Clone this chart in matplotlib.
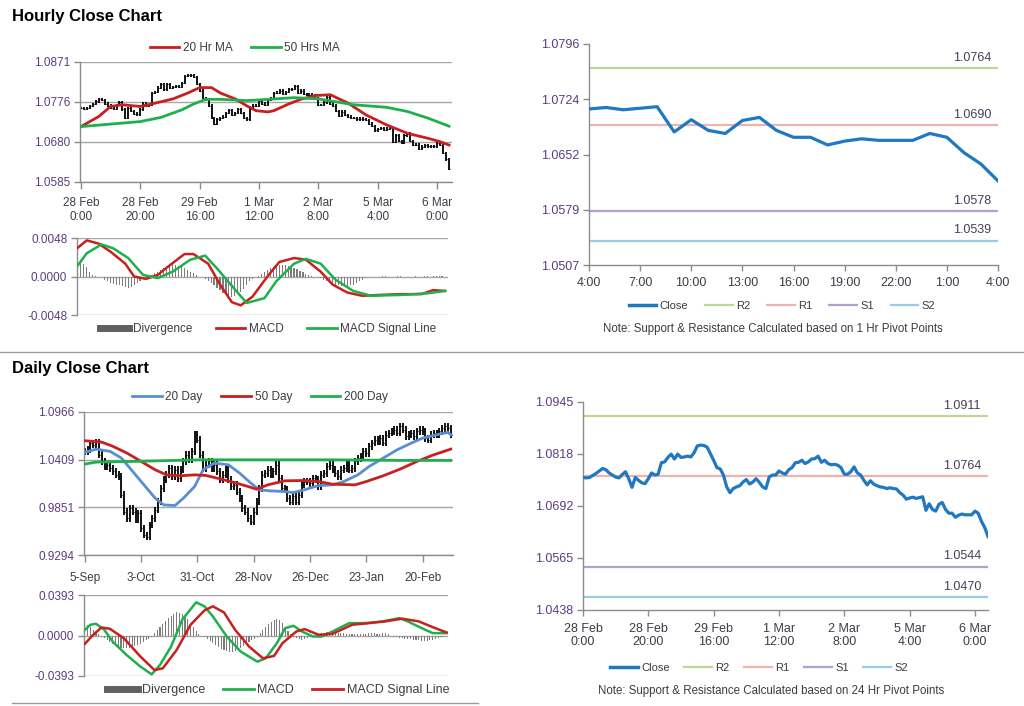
"""
Hourly / daily close dashboard: price bars with moving averages,
MACD panels and pivot (support & resistance) panels.
"""

import numpy as np
import matplotlib
matplotlib.use("Agg")
import matplotlib.pyplot as plt
from matplotlib.lines import Line2D

plt.rcParams['font.family'] = ['Liberation Sans', 'DejaVu Sans']

W, H = 1024, 706

# ---------------- hourly data (28 Feb 0:00 -> 6 Mar 4:00, 125 bars) ----------------
hourly_close = [
    1.0761, 1.0760, 1.0761, 1.0766, 1.0771, 1.0777, 1.0783, 1.0780, 1.0772, 1.0767,
    1.0762, 1.0760, 1.0768, 1.0775, 1.0758, 1.0737, 1.0761, 1.0754, 1.0748, 1.0746,
    1.0758, 1.0772, 1.0767, 1.0769, 1.0797, 1.0799, 1.0810, 1.0818, 1.0806, 1.0818,
    1.0810, 1.0811, 1.0813, 1.0811, 1.0821, 1.0838, 1.0840, 1.0839, 1.0835, 1.0819,
    1.0803, 1.0785, 1.0782, 1.0767, 1.0738, 1.0724, 1.0734, 1.0738, 1.0741, 1.0750,
    1.0756, 1.0745, 1.0750, 1.0758, 1.0749, 1.0738, 1.0734, 1.0762, 1.0767, 1.0767,
    1.0777, 1.0772, 1.0769, 1.0780, 1.0785, 1.0797, 1.0798, 1.0803, 1.0795, 1.0799,
    1.0806, 1.0807, 1.0813, 1.0798, 1.0803, 1.0795, 1.0792, 1.0793, 1.0791, 1.0785,
    1.0769, 1.0769, 1.0775, 1.0787, 1.0772, 1.0767, 1.0754, 1.0743, 1.0753, 1.0745,
    1.0741, 1.0738, 1.0737, 1.0734, 1.0736, 1.0734, 1.0733, 1.0724, 1.0718, 1.0708,
    1.0711, 1.0713, 1.0710, 1.0712, 1.0714, 1.0681, 1.0697, 1.0683, 1.0679, 1.0696,
    1.0700, 1.0683, 1.0674, 1.0674, 1.0664, 1.0669, 1.0672, 1.0670, 1.0670, 1.0670,
    1.0679, 1.0674, 1.0654, 1.0639, 1.0617,
]
hourly_ticks = ["28 Feb\n0:00", "28 Feb\n20:00", "29 Feb\n16:00", "1 Mar\n12:00",
                "2 Mar\n8:00", "5 Mar\n4:00", "6 Mar\n0:00"]

ma20_hr_idx = [0, 6, 10, 14, 20, 25, 31, 36, 40, 44, 47, 52, 56, 59, 63, 65, 70, 74,
               79, 84, 90, 96, 103, 110, 117, 121, 124]
ma20_hr = [1.0717, 1.0741, 1.0765, 1.0769, 1.0765, 1.0773, 1.0783, 1.0797, 1.0810,
           1.0810, 1.0797, 1.0783, 1.0766, 1.0755, 1.0752, 1.0755, 1.0771, 1.0782,
           1.0791, 1.0793, 1.0773, 1.0745, 1.0721, 1.0701, 1.0689, 1.0681, 1.0673]
ma50_hr_idx = [0, 10, 20, 27, 34, 38, 42, 47, 56, 63, 72, 80, 92, 103, 110, 117, 124]
ma50_hr = [1.0717, 1.0723, 1.0729, 1.0739, 1.0757, 1.0771, 1.0782, 1.0782, 1.0779,
           1.0782, 1.0786, 1.0783, 1.0769, 1.0763, 1.0753, 1.0737, 1.0718]

macd_hr_idx = [0, 3, 7, 11, 16, 19, 23, 27, 30, 36, 39, 44, 48, 52, 55, 59, 64, 68,
               73, 77, 82, 86, 91, 96, 102, 109, 116, 120, 124]
macd_hr = [0.0036, 0.0045, 0.0041, 0.0031, 0.0016, 0.0000, -0.0003, 0.0002, 0.0011,
           0.0028, 0.0028, 0.0016, -0.0010, -0.0032, -0.0036, -0.0025, 0.0000, 0.0018,
           0.0023, 0.0021, 0.0006, -0.0010, -0.0020, -0.0024, -0.0023, -0.0022,
           -0.0022, -0.0017, -0.0018]
signal_hr_idx = [0, 3, 8, 12, 17, 22, 27, 32, 38, 43, 47, 53, 57, 63, 67, 73, 77, 82,
                 87, 93, 99, 109, 118, 124]
signal_hr = [0.0014, 0.0029, 0.0040, 0.0035, 0.0023, 0.0002, -0.0002, 0.0006, 0.0021,
             0.0026, 0.0010, -0.0016, -0.0033, -0.0027, -0.0006, 0.0016, 0.0022,
             0.0016, -0.0004, -0.0018, -0.0024, -0.0023, -0.0021, -0.0018]
# divergence in units of 0.0001, one value per hourly bar
divergence_hr = [
    23, 20, 16, 12, 6, 2, 1, 0, -1,
    -4, -6, -8, -9, -10, -11, -12, -13, -14, -13, -11, -8,
    -5, -2, -1, 0,
    2, 4, 6, 8, 10, 12, 13, 14, 14, 13, 12, 10, 8, 6, 4, 2,
    0, -1, -3, -5,
    -8, -11, -14, -17, -20, -22, -24, -25, -24, -22, -19, -15, -10,
    -6, -3, -1, 1, 3,
    6, 8, 10, 12, 13, 14, 14, 14, 13, 12, 11, 9, 7, 5, 3, 2,
    1, 0, -1, -2, -4,
    -6, -8, -9, -10, -11, -12, -12, -12, -11, -10, -8, -6, -4, -2,
    -1, -1, 0, 0, 0, 1, 1, 0, 0, 0, 1, 1, 0, 0, 0, 0, 1, 0, 0, 1, 1, 0, 1, 1, 1, 1, 0,
]

# last 24 hours (4:00 -> 4:00) with 1 Hr pivot levels
last_day_ticks = ["4:00", "7:00", "10:00", "13:00", "16:00", "19:00", "22:00", "1:00", "4:00"]
pivot_names = ["R2", "R1", "S1", "S2"]
pivot_1hr = [1.0764, 1.0690, 1.0578, 1.0539]
pivot_24hr = [1.0911, 1.0764, 1.0544, 1.0470]

# ---------------- daily data (5-Sep -> early Mar, 131 bars) ----------------
daily_close = [
    1.0505, 1.0525, 1.0603, 1.0583, 1.0614, 1.0466, 1.0388, 1.0329, 1.0349, 1.0310,
    1.0271, 1.0231, 1.0212, 0.9997, 0.9802, 0.9724, 0.9841, 0.9802, 0.9704, 0.9782,
    0.9606, 0.9528, 0.9509, 0.9645, 0.9724, 0.9821, 0.9919, 1.0075, 1.0173, 1.0231,
    1.0310, 1.0212, 1.0290, 1.0192, 1.0290, 1.0388, 1.0466, 1.0407, 1.0505, 1.0700,
    1.0642, 1.0466, 1.0310, 1.0349, 1.0388, 1.0310, 1.0349, 1.0271, 1.0173, 1.0231,
    1.0290, 1.0173, 1.0095, 1.0114, 1.0036, 0.9958, 0.9841, 0.9802, 0.9724, 0.9685,
    0.9802, 0.9919, 1.0075, 1.0231, 1.0251, 1.0290, 1.0231, 1.0271, 1.0349, 1.0192,
    1.0075, 1.0056, 0.9958, 0.9919, 0.9981, 0.9919, 0.9997, 1.0114, 1.0153, 1.0153,
    1.0134, 1.0192, 1.0173, 1.0095, 1.0231, 1.0251, 1.0329, 1.0349, 1.0290, 1.0251,
    1.0212, 1.0290, 1.0310, 1.0349, 1.0290, 1.0310, 1.0388, 1.0427, 1.0446, 1.0505,
    1.0485, 1.0564, 1.0603, 1.0642, 1.0622, 1.0661, 1.0603, 1.0700, 1.0720, 1.0739,
    1.0759, 1.0720, 1.0798, 1.0759, 1.0681, 1.0700, 1.0720, 1.0681, 1.0739, 1.0759,
    1.0739, 1.0661, 1.0642, 1.0700, 1.0720, 1.0700, 1.0739, 1.0778, 1.0798, 1.0778,
    1.0700,
]
daily_ticks = ["5-Sep", "3-Oct", "31-Oct", "28-Nov", "26-Dec", "23-Jan", "20-Feb"]

ma20_d_idx = [0, 4, 9, 13, 17, 21, 25, 28, 32, 35, 39, 42, 46, 51, 55, 59, 62, 66, 71,
              74, 78, 83, 88, 92, 97, 101, 106, 111, 116, 120, 125, 129, 130]
ma20_d = [1.0493, 1.0532, 1.0505, 1.0427, 1.0271, 1.0114, 0.9958, 0.9880, 0.9872,
          0.9958, 1.0095, 1.0290, 1.0368, 1.0349, 1.0251, 1.0134, 1.0056, 1.0044,
          1.0036, 1.0024, 1.0056, 1.0106, 1.0114, 1.0153, 1.0231, 1.0329, 1.0427,
          1.0525, 1.0603, 1.0661, 1.0700, 1.0728, 1.0700]
ma50_d_idx = [0, 6, 10, 15, 20, 25, 29, 34, 39, 43, 48, 53, 58, 61, 65, 71, 77, 83,
              88, 96, 100, 106, 112, 118, 124, 130]
ma50_d = [1.0630, 1.0614, 1.0564, 1.0485, 1.0388, 1.0290, 1.0231, 1.0220, 1.0231,
          1.0224, 1.0185, 1.0142, 1.0095, 1.0063, 1.0114, 1.0161, 1.0165, 1.0153,
          1.0122, 1.0114, 1.0153, 1.0220, 1.0298, 1.0388, 1.0466, 1.0532]
ma200_d_idx = [0, 4, 17, 41, 65, 88, 112, 130]
ma200_d = [1.0357, 1.0380, 1.0388, 1.0407, 1.0407, 1.0407, 1.0400, 1.0400]

macd_d_idx = [0, 2, 4, 7, 10, 15, 20, 24, 27, 31, 35, 40, 43, 46, 51, 56, 62, 65, 69,
              72, 75, 78, 82, 85, 89, 95, 101, 107, 113, 116, 121, 125, 130]
macd_d = [0.0055, 0.0104, 0.0114, 0.0055, -0.0059, -0.0189, -0.0302, -0.0377, -0.0286,
          -0.0107, 0.0153, 0.0322, 0.0283, 0.0185, -0.0010, -0.0156, -0.0254, -0.0221,
          -0.0075, 0.0072, 0.0094, 0.0039, -0.0010, -0.0010, 0.0039, 0.0120, 0.0120,
          0.0137, 0.0169, 0.0137, 0.0072, 0.0023, 0.0023]
signal_d_idx = [0, 3, 6, 9, 14, 20, 25, 28, 33, 38, 43, 46, 50, 54, 59, 64, 68, 71, 76,
                79, 84, 89, 96, 102, 108, 114, 120, 125, 130]
signal_d = [-0.0081, 0.0007, 0.0078, 0.0065, -0.0026, -0.0205, -0.0335, -0.0319,
            -0.0140, 0.0104, 0.0244, 0.0283, 0.0224, 0.0055, -0.0107, -0.0221, -0.0198,
            -0.0075, 0.0039, 0.0062, 0.0007, 0.0016, 0.0104, 0.0120, 0.0137, 0.0163,
            0.0137, 0.0081, 0.0029]
# divergence in units of 0.001, one value per daily bar
divergence_d = [
    12, 10, 8, 5, 3, 1, 0,
    -2, -4, -6, -8, -10, -11, -12, -12, -12, -12, -11, -10, -9, -8, -6, -4, -3, -1,
    2, 5, 8, 11, 14, 17, 19, 21, 23, 22, 21, 19, 16, 12, 8, 4,
    1, 0, -1,
    -3, -5, -7, -9, -11, -13, -14, -15, -16, -16, -15, -14, -12, -10, -8, -6, -4, -3, -1,
    2, 5, 8, 11, 13, 15, 16, 15, 12, 8, 4,
    1, -1, -2, -3, -4, -3, -2,
    -1, 0, 1, 1, 2, 2, 3, 3, 3, 3, 2, 2, 2, 1, 1, 1, 1, 1,
    1, 1, 1, 2, 2, 2, 1, 1, 2, 2, 1, 0,
    -1, -1, -2, -2, -3, -3, -3, -4, -4, -4, -5, -5, -5, -4, -4, -3, -2, -1,
    -1, 0,
]

# ---------------- colours ----------------
RED = '#C8201E'
GREEN = '#1FB04E'
BLUE_MA = '#5A8ED0'
CLOSE_BLUE = '#1F78C1'
DIV_GRAY = '#7C7C7C'
PIVOT_COLORS = ['#BCD993', '#EFB3AC', '#B2A0CC', '#95CFE0']
AXIS_GRAY = '#8C8C8C'
GRID_GRAY = '#A6A6A6'
YLAB = '#5E3C7E'
XLAB = '#3E3A46'
TEXT = '#3C3C3C'


def add_axes_px(fig, left, top, right, bottom):
    """Add axes from a pixel box (origin top-left)."""
    return fig.add_axes([left / W, 1 - bottom / H, (right - left) / W, (bottom - top) / H])


def style_axes(ax, ylim, ylabels, grid=True, size=8.5):
    ax.set_ylim(ylim)
    ax.set_yticks(np.linspace(ylim[0], ylim[1], len(ylabels)))
    ax.set_yticklabels(ylabels)
    for side in ['top', 'right']:
        ax.spines[side].set_visible(False)
    for side in ['left', 'bottom']:
        ax.spines[side].set_color(AXIS_GRAY)
        ax.spines[side].set_linewidth(1)
    ax.tick_params(axis='y', color=AXIS_GRAY, labelcolor=YLAB, labelsize=size,
                   length=4, width=1, pad=3)
    ax.tick_params(axis='x', color=AXIS_GRAY, labelcolor=XLAB, labelsize=size,
                   length=5, width=1, pad=6)
    if grid:
        ax.grid(axis='y', color=GRID_GRAY, linewidth=1)
        ax.set_axisbelow(True)


def draw_bars(ax, closes, wick):
    """Simple OHLC-style bars; open taken as previous close."""
    closes = np.array(closes)
    opens = np.concatenate([[closes[0]], closes[:-1]])
    x = np.arange(len(closes))
    ax.vlines(x, np.minimum(opens, closes) - wick, np.maximum(opens, closes) + wick,
              color='black', linewidth=1.3, zorder=2)
    ax.hlines(closes, x, x + 0.35, color='black', linewidth=0.8, zorder=2)


def legend_at(fig, handles, labels, cx, cy, spacing=1.6, size=8.5):
    fig.legend(handles, labels, loc='center', bbox_to_anchor=(cx / W, 1 - cy / H),
               ncol=len(labels), frameon=False, fontsize=size, handlelength=2.5,
               handletextpad=0.3, columnspacing=spacing, labelcolor=TEXT)


def pivot_panel(ax, close, levels, ylim, ylabels, xticks, xlabels):
    x = np.arange(len(close))
    ax.plot(x, close, color=CLOSE_BLUE, linewidth=2.3, zorder=3)
    for lvl, col in zip(levels, PIVOT_COLORS):
        ax.plot([x[0], x[-1]], [lvl, lvl], color=col, linewidth=1.6, zorder=2)
        ax.annotate(f"{lvl:.4f}", xy=(1, lvl), xycoords=('axes fraction', 'data'),
                    xytext=(-5, 3), textcoords='offset points', ha='right', va='bottom',
                    fontsize=9, color='#4A3C58')
    ax.set_xlim(x[0], x[-1])
    style_axes(ax, ylim, ylabels, grid=False, size=9)
    ax.set_xticks(xticks)
    ax.set_xticklabels(xlabels)
    ax.tick_params(axis='x', length=4, pad=5)


fig = plt.figure(figsize=(W / 100, H / 100), dpi=100)

fig.text(12 / W, 1 - 16 / H, "Hourly Close Chart", fontsize=12, fontweight='bold', va='center')
fig.text(12 / W, 1 - 369 / H, "Daily Close Chart", fontsize=12, fontweight='bold', va='center')
fig.add_artist(Line2D([0, 1], [1 - 352 / H] * 2, color='#9A9A9A', linewidth=1))
fig.add_artist(Line2D([12 / W, 478 / W], [1 - 703 / H] * 2, color='#9A9A9A', linewidth=1))

# ---- hourly price panel ----
ax1 = add_axes_px(fig, 80, 62, 452, 182)
draw_bars(ax1, hourly_close, 0.0003)
ax1.plot(ma20_hr_idx, ma20_hr, color=RED, linewidth=2, zorder=3)
ax1.plot(ma50_hr_idx, ma50_hr, color=GREEN, linewidth=2, zorder=3)
ax1.set_xlim(-0.3, 125)
style_axes(ax1, (1.0585, 1.0871), ["1.0585", "1.0680", "1.0776", "1.0871"])
ax1.set_xticks(np.arange(0, 121, 20))
ax1.set_xticklabels(hourly_ticks)
legend_at(fig, [Line2D([], [], color=RED, lw=2), Line2D([], [], color=GREEN, lw=2)],
          ["20 Hr MA", "50 Hrs MA"], 245, 48)

# ---- hourly MACD panel ----
ax2 = add_axes_px(fig, 77, 238, 448, 315)
ax2.bar(np.arange(len(divergence_hr)), np.array(divergence_hr) * 1e-4, width=0.4,
        color=DIV_GRAY, zorder=2)
ax2.plot(macd_hr_idx, macd_hr, color=RED, linewidth=1.8, zorder=3)
ax2.plot(signal_hr_idx, signal_hr, color=GREEN, linewidth=1.8, zorder=3)
ax2.set_xlim(-0.3, 125)
style_axes(ax2, (-0.0048, 0.0048), ["-0.0048", "0.0000", "0.0048"])
ax2.spines['bottom'].set_visible(False)
ax2.set_xticks([])
legend_at(fig, [Line2D([], [], color='#606060', lw=5), Line2D([], [], color=RED, lw=2),
                Line2D([], [], color=GREEN, lw=2)],
          ["Divergence", "MACD", "MACD Signal Line"], 268, 329, spacing=2.0)

# ---- last 24 hours with 1 Hr pivots ----
ax3 = add_axes_px(fig, 589, 44, 998, 265)
pivot_panel(ax3, hourly_close[-25:], pivot_1hr, (1.0507, 1.0796),
            ["1.0507", "1.0579", "1.0652", "1.0724", "1.0796"],
            np.arange(0, 25, 3), last_day_ticks)
legend_at(fig, [Line2D([], [], color=CLOSE_BLUE, lw=2.5)] +
          [Line2D([], [], color=c, lw=1.6) for c in PIVOT_COLORS],
          ["Close"] + pivot_names, 782, 306, spacing=1.5, size=8)
fig.text(773 / W, 1 - 329 / H, "Note: Support & Resistance Calculated based on 1 Hr Pivot Points",
         fontsize=8.3, color=TEXT, ha='center', va='center')

# ---- daily price panel ----
ax4 = add_axes_px(fig, 84, 412, 453, 555)
draw_bars(ax4, daily_close, 0.004)
ax4.plot(ma20_d_idx, ma20_d, color=BLUE_MA, linewidth=2, zorder=3)
ax4.plot(ma50_d_idx, ma50_d, color=RED, linewidth=2, zorder=3)
ax4.plot(ma200_d_idx, ma200_d, color=GREEN, linewidth=2, zorder=3)
ax4.set_xlim(-0.3, 130.8)
style_axes(ax4, (0.9294, 1.0966), ["0.9294", "0.9851", "1.0409", "1.0966"])
ax4.set_xticks(np.arange(0, 121, 20))
ax4.set_xticklabels(daily_ticks)
ax4.tick_params(axis='x', pad=7)
legend_at(fig, [Line2D([], [], color=c, lw=2) for c in (BLUE_MA, RED, GREEN)],
          ["20 Day", "50 Day", "200 Day"], 260, 397)

# ---- daily MACD panel ----
ax5 = add_axes_px(fig, 84, 595, 448, 676)
ax5.bar(np.arange(len(divergence_d)), np.array(divergence_d) * 1e-3, width=0.4,
        color=DIV_GRAY, zorder=2)
ax5.plot(macd_d_idx, macd_d, color=GREEN, linewidth=1.8, zorder=3)
ax5.plot(signal_d_idx, signal_d, color=RED, linewidth=1.8, zorder=3)
ax5.set_xlim(-0.3, 130.5)
style_axes(ax5, (-0.0393, 0.0393), ["-0.0393", "0.0000", "0.0393"])
ax5.spines['bottom'].set_visible(False)
ax5.set_xticks([])
legend_at(fig, [Line2D([], [], color='#606060', lw=5), Line2D([], [], color=GREEN, lw=2),
                Line2D([], [], color=RED, lw=2)],
          ["Divergence", "MACD", "MACD Signal Line"], 278, 690, spacing=1.4, size=9)

# ---- hourly close with 24 Hr pivots ----
ax6 = add_axes_px(fig, 583, 402, 988, 610)
pivot_panel(ax6, hourly_close, pivot_24hr, (1.0438, 1.0945),
            ["1.0438", "1.0565", "1.0692", "1.0818", "1.0945"],
            np.arange(0, 121, 20), hourly_ticks)
legend_at(fig, [Line2D([], [], color=CLOSE_BLUE, lw=2.5)] +
          [Line2D([], [], color=c, lw=1.6) for c in PIVOT_COLORS],
          ["Close"] + pivot_names, 759, 668, spacing=1.3, size=8)
fig.text(771 / W, 1 - 691 / H, "Note: Support & Resistance Calculated based on 24 Hr Pivot Points",
         fontsize=8.3, color=TEXT, ha='center', va='center')

fig.savefig("out.png", dpi=100)
plt.close(fig)
